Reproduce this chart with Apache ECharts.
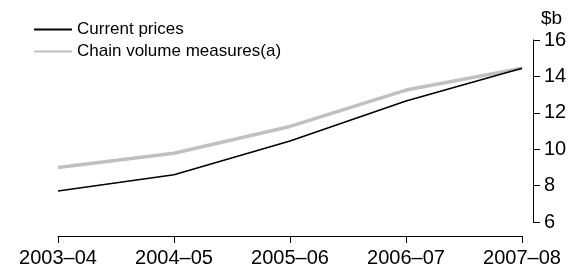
<!DOCTYPE html>
<html>
<head>
<meta charset="utf-8">
<script src="https://cdn.jsdelivr.net/npm/echarts@6/dist/echarts.min.js"></script>
<style>
  html, body { margin: 0; padding: 0; background: #fff; }
  #chart { width: 570px; height: 271px; }
</style>
</head>
<body>
<div id="chart"></div>
<script>
var years = ['2003–04', '2004–05', '2005–06', '2006–07', '2007–08']
var currentPrices = [7.7, 8.6, 10.45, 12.65, 14.45]
var chainVolume = [9.0, 9.78, 11.25, 13.25, 14.45]
var yTicks = { min: 6, max: 16, interval: 2 }

var font = '"Liberation Sans", Arial, sans-serif'

var chart = echarts.init(document.getElementById('chart'))
chart.setOption({
  animation: false,
  textStyle: { fontFamily: font, color: '#000' },
  grid: { left: 58, right: 48, top: 40, bottom: 49 },
  legend: {
    orient: 'vertical',
    left: 28,
    top: 16,
    itemWidth: 38,
    itemHeight: 12,
    itemGap: 5,
    itemStyle: { opacity: 0 },
    textStyle: { fontFamily: font, fontSize: 17, color: '#000' },
    data: ['Current prices', 'Chain volume measures(a)']
  },
  graphic: [{
    type: 'text',
    left: 541,
    top: 9,
    style: { text: '$b', fontFamily: font, fontSize: 19, fill: '#000' }
  }],
  xAxis: {
    type: 'category',
    data: years,
    boundaryGap: false,
    offset: 14,
    axisLine: { lineStyle: { color: '#000', width: 1 } },
    axisTick: { length: 7, lineStyle: { color: '#000' } },
    axisLabel: { fontFamily: font, fontSize: 20, color: '#000', margin: 12 }
  },
  yAxis: {
    type: 'value',
    position: 'right',
    offset: 11,
    min: yTicks.min,
    max: yTicks.max,
    interval: yTicks.interval,
    splitLine: { show: false },
    axisLine: { show: true, lineStyle: { color: '#000', width: 1 } },
    axisTick: { show: true, length: 7, lineStyle: { color: '#000' } },
    axisLabel: { fontFamily: font, fontSize: 20, color: '#000', margin: 11 }
  },
  series: [
    {
      name: 'Current prices',
      type: 'line',
      data: currentPrices,
      symbol: 'none',
      z: 3,
      lineStyle: { color: '#000', width: 1.6 },
      itemStyle: { color: '#000' }
    },
    {
      name: 'Chain volume measures(a)',
      type: 'line',
      data: chainVolume,
      symbol: 'none',
      z: 2,
      lineStyle: { color: '#c0c0c0', width: 3.5 },
      itemStyle: { color: '#c0c0c0' }
    }
  ]
})
</script>
</body>
</html>
